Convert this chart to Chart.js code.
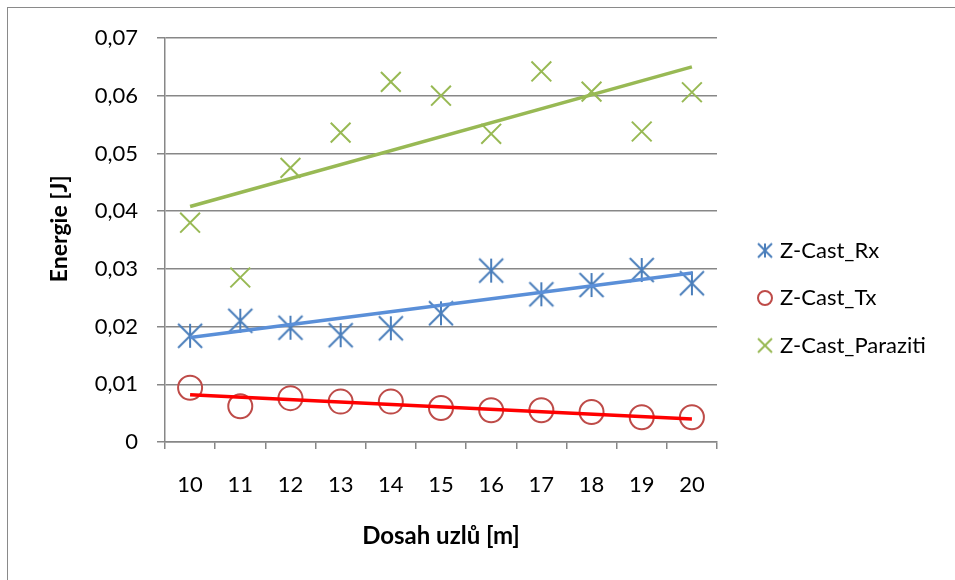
<!DOCTYPE html>
<html>
<head>
<meta charset="utf-8">
<script src="https://cdn.jsdelivr.net/npm/chart.js@4.4.1/dist/chart.umd.min.js"></script>
<style>
  html, body { margin: 0; padding: 0; background: #fff; }
  #wrap { position: relative; width: 955px; height: 580px; overflow: hidden; }
  #frame { position: absolute; left: 7px; top: 7px; width: 1200px; height: 1200px;
           border-left: 1.5px solid #8a8a8a; border-top: 1.5px solid #8a8a8a; }
  canvas { position: absolute; left: 0; top: 0; }
</style>
</head>
<body>
<div id="wrap">
  <div id="frame"></div>
  <canvas id="energie" width="955" height="580"></canvas>
</div>
<script>
// hodnoty
const labels = ['10', '11', '12', '13', '14', '15', '16', '17', '18', '19', '20'];
const rx = [0.0184, 0.0210, 0.0198, 0.0185, 0.0197, 0.0223, 0.0297, 0.0256, 0.0272, 0.0298, 0.0275];
const tx = [0.0094, 0.0062, 0.0076, 0.0070, 0.0070, 0.0059, 0.0055, 0.0055, 0.0052, 0.0043, 0.0043];
const paraziti = [0.0380, 0.0285, 0.0475, 0.0536, 0.0624, 0.0600, 0.0534, 0.0642, 0.0607, 0.0538, 0.0606];

// konce linearnich trendu (u 10 a u 20)
const rxTrend = [0.0181, 0.0293];
const txTrend = [0.0082, 0.0040];
const parazitiTrend = [0.0408, 0.0650];

const gray = '#878787';
const fontName = 'Lato, "Liberation Sans", sans-serif';

const trendData = ends => labels.map((_, i) => i === 0 ? ends[0] : (i === labels.length - 1 ? ends[1] : null));

// znacky jako male canvasy
function asterisk(size, lw, color) {
  const c = document.createElement('canvas');
  const s = Math.ceil(size + lw * 2);
  c.width = s; c.height = s;
  const g = c.getContext('2d');
  const m = s / 2, h = size / 2;
  g.strokeStyle = color; g.lineWidth = lw;
  g.beginPath();
  g.moveTo(m, m - h); g.lineTo(m, m + h);
  g.moveTo(m - h, m - h); g.lineTo(m + h, m + h);
  g.moveTo(m - h, m + h); g.lineTo(m + h, m - h);
  g.stroke();
  return c;
}
function ring(size, lw, color) {
  const c = document.createElement('canvas');
  const s = Math.ceil(size + lw * 2);
  c.width = s; c.height = s;
  const g = c.getContext('2d');
  g.strokeStyle = color; g.lineWidth = lw;
  g.beginPath(); g.arc(s / 2, s / 2, size / 2, 0, Math.PI * 2); g.stroke();
  return c;
}
function cross(size, lw, color) {
  const c = document.createElement('canvas');
  const s = Math.ceil(size + lw * 2);
  c.width = s; c.height = s;
  const g = c.getContext('2d');
  const m = s / 2, h = size / 2;
  g.strokeStyle = color; g.lineWidth = lw;
  g.beginPath();
  g.moveTo(m - h, m - h); g.lineTo(m + h, m + h);
  g.moveTo(m - h, m + h); g.lineTo(m + h, m - h);
  g.stroke();
  return c;
}

const legendIcons = [asterisk(14, 2, '#4A7EBB'), ring(14, 2, '#BE4B48'), cross(14, 2, '#98B954')];

// sirka legendy -> odsazeni vpravo, aby legenda zacinala na x = 735
const legendFont = 22;
const measure = document.createElement('canvas').getContext('2d');
measure.font = legendFont + 'px ' + fontName;
const longest = Math.max(...['Z-Cast_Rx', 'Z-Cast_Tx', 'Z-Cast_Paraziti'].map(t => measure.measureText(t).width));
const legendPad = 25.5, legendBox = 8;
const legendWidth = legendPad + legendBox + legendFont / 2 + longest + 10;
const rightPad = Math.max(0, 955 - 735.5 - legendWidth);

const ctx = document.getElementById('energie').getContext('2d');
new Chart(ctx, {
  type: 'line',
  data: {
    labels: labels,
    datasets: [
      { label: 'Z-Cast_Rx', data: rx, showLine: false, yAxisID: 'y', order: 1,
        pointStyle: asterisk(24, 2, '#4A7EBB'), borderColor: '#4A7EBB', backgroundColor: '#4A7EBB' },
      { label: 'Z-Cast_Tx', data: tx, showLine: false, yAxisID: 'y', order: 1,
        pointStyle: 'circle', pointRadius: 12, pointBorderWidth: 2,
        borderColor: '#BE4B48', backgroundColor: 'rgba(0,0,0,0)' },
      { label: 'Z-Cast_Paraziti', data: paraziti, showLine: false, yAxisID: 'y', order: 1,
        pointStyle: 'crossRot', pointRadius: 14, pointBorderWidth: 2,
        borderColor: '#98B954', backgroundColor: '#98B954' },
      { label: 'trend Rx', data: trendData(rxTrend), spanGaps: true, pointRadius: 0, yAxisID: 'y', order: 0,
        borderColor: '#5A8FD8', borderWidth: 3.5 },
      { label: 'trend Tx', data: trendData(txTrend), spanGaps: true, pointRadius: 0, yAxisID: 'y', order: 0,
        borderColor: '#FF0000', borderWidth: 3.5 },
      { label: 'trend Paraziti', data: trendData(parazitiTrend), spanGaps: true, pointRadius: 0, yAxisID: 'y', order: 0,
        borderColor: '#98B954', borderWidth: 3.5 }
    ]
  },
  options: {
    responsive: false,
    animation: false,
    devicePixelRatio: 1,
    layout: { padding: { left: 0, top: 38, right: rightPad, bottom: 22 } },
    plugins: {
      tooltip: { enabled: false },
      legend: {
        position: 'right',
        align: 'center',
        maxWidth: 400,
        labels: {
          usePointStyle: true,
          boxWidth: legendBox,
          boxHeight: legendBox,
          padding: legendPad,
          color: '#000',
          font: { family: fontName, size: legendFont },
          generateLabels(chart) {
            const items = Chart.defaults.plugins.legend.labels.generateLabels(chart);
            return items.filter(it => it.datasetIndex < 3)
              .map(it => Object.assign(it, { pointStyle: legendIcons[it.datasetIndex] }));
          }
        }
      }
    },
    scales: {
      y: {
        min: 0,
        max: 0.07,
        afterFit(s) { s.width = 165; },
        ticks: {
          stepSize: 0.01,
          padding: 19,
          color: '#000',
          font: { family: fontName, size: 22 },
          callback: v => v === 0 ? '0' : v.toFixed(2).replace('.', ',')
        },
        grid: { color: gray, lineWidth: 1.5, tickLength: 8 },
        border: { color: gray, width: 1.5 },
        title: {
          display: true,
          text: '    Energie [J]',
          color: '#000',
          font: { family: fontName, size: 23, weight: 'bold' },
          padding: { top: 46, bottom: 0 }
        }
      },
      gap: {
        type: 'linear',
        position: 'right',
        afterFit(s) { s.width = 18.5; },
        ticks: { display: false },
        grid: { display: false },
        border: { display: false }
      },
      x: {
        type: 'category',
        offset: true,
        afterFit(s) { s.height = 116; },
        ticks: {
          padding: 23,
          color: '#000',
          font: { family: fontName, size: 22 }
        },
        grid: { offset: true, drawOnChartArea: false, color: gray, lineWidth: 1.5, tickLength: 7 },
        border: { color: gray, width: 1.5 },
        title: {
          display: true,
          text: 'Dosah uzlů [m]',
          color: '#000',
          font: { family: fontName, size: 24, weight: 'bold' },
          padding: { top: 0, bottom: 7 }
        }
      }
    }
  }
});
</script>
</body>
</html>
